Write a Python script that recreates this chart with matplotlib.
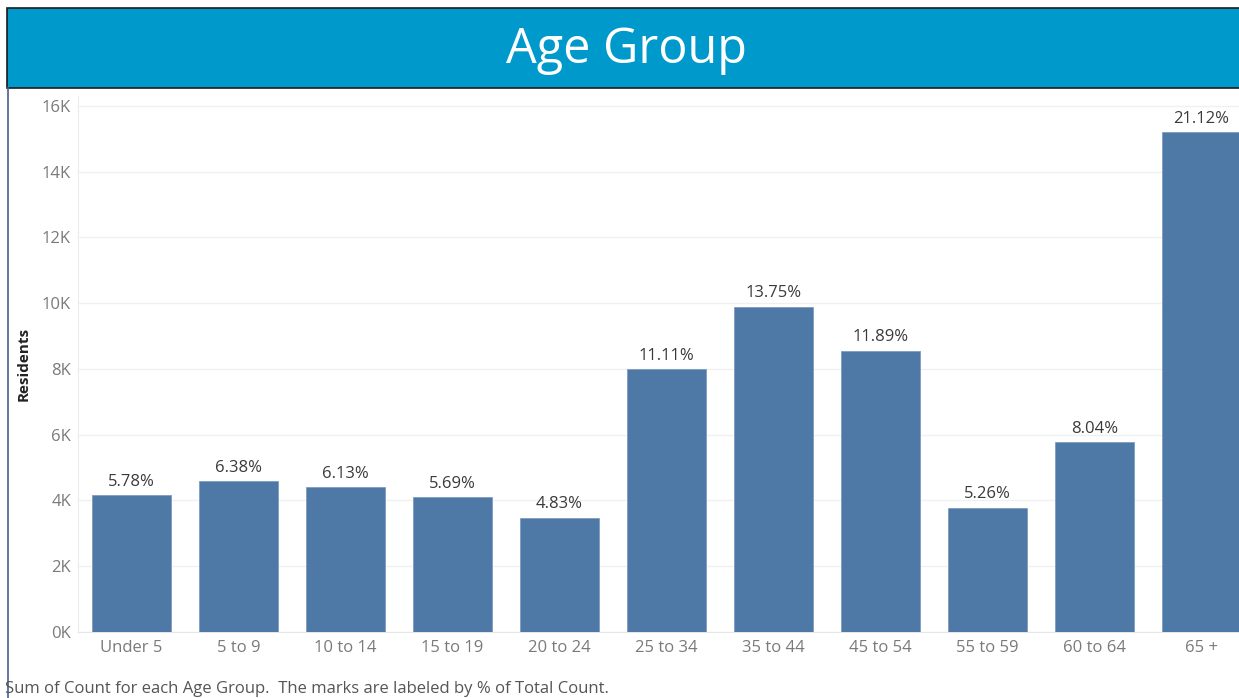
import matplotlib.pyplot as plt
from matplotlib.patches import Rectangle
from matplotlib.lines import Line2D
from matplotlib.ticker import FuncFormatter

# data
age_groups = ["Under 5", "5 to 9", "10 to 14", "15 to 19", "20 to 24", "25 to 34",
              "35 to 44", "45 to 54", "55 to 59", "60 to 64", "65 +"]
residents = [4160, 4590, 4410, 4095, 3475, 7995, 9895, 8555, 3785, 5785, 15195]
pct_labels = ["5.78%", "6.38%", "6.13%", "5.69%", "4.83%", "11.11%",
              "13.75%", "11.89%", "5.26%", "8.04%", "21.12%"]

plt.rcParams['font.family'] = ['Open Sans', 'DejaVu Sans']

W, H = 1239, 698
fig = plt.figure(figsize=(W / 100, H / 100), dpi=100)

# title banner
fig.patches.append(Rectangle((7 / W, 1 - 88 / H), 1.2, 80 / H, transform=fig.transFigure,
                             facecolor='#0099cc', edgecolor='#1a1a1a', linewidth=1.2))
fig.text(626 / W, 1 - 50 / H, "Age Group", color='white', fontsize=35,
         ha='center', va='center')
# left frame line
fig.lines.append(Line2D([7.5 / W, 7.5 / W], [0, 1 - 88 / H], transform=fig.transFigure,
                        color='#4a5f8f', linewidth=1.2))

ax = fig.add_axes([78 / W, 1 - 632 / H, 1177 / W, 536 / H])
x = range(len(age_groups))
ax.bar(x, residents, width=0.74, color='#4e79a7', edgecolor='#7f9cc0', linewidth=0.6, zorder=3)
for xi, v, lab in zip(x, residents, pct_labels):
    ax.text(xi, v + 160, lab, ha='center', va='bottom', fontsize=12, color='#3a3a3a')

ax.set_xlim(-0.5, len(age_groups) - 0.5)
ax.set_ylim(0, 16300)
ax.set_yticks(range(0, 16001, 2000))
ax.yaxis.set_major_formatter(FuncFormatter(lambda v, p: f"{int(v / 1000)}K"))
ax.set_xticks(list(x))
ax.set_xticklabels(age_groups)
ax.tick_params(axis='both', length=0, labelsize=12, labelcolor='#7a7a7a')
ax.tick_params(axis='x', pad=6)
ax.tick_params(axis='y', pad=5)
ax.grid(axis='y', color='#f0f0f0', linewidth=1, zorder=0)
for s in ['top', 'right']:
    ax.spines[s].set_visible(False)
ax.spines['left'].set_color('#ececec')
ax.spines['bottom'].set_color('#e6e6e6')
ax.set_ylabel("Residents", fontsize=11, fontweight='bold', color='#222222', labelpad=8)

fig.text(5 / W, 1 - 689 / H, "Sum of Count for each Age Group.  The marks are labeled by % of Total Count.",
         fontsize=12, color='#555555', ha='left', va='center')

fig.savefig("out.png", dpi=100)
